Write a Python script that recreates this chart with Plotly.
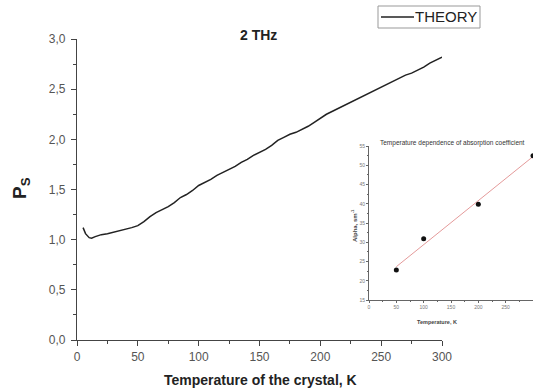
import numpy as np
import plotly.graph_objects as go

# Main curve: theory
temp = [5, 7, 10, 12, 15, 20, 25, 30, 35, 40, 45, 50, 55, 60, 65, 70, 75, 80, 85, 90, 95,
        100, 105, 110, 115, 120, 125, 130, 135, 140, 145, 150, 155, 160, 165, 170, 175,
        180, 185, 190, 195, 200, 205, 210, 215, 220, 225, 230, 235, 240, 245, 250, 255,
        260, 265, 270, 275, 280, 285, 290, 295, 300]
ps = [1.12, 1.06, 1.02, 1.015, 1.03, 1.05, 1.06, 1.075, 1.09, 1.10, 1.12, 1.14, 1.18, 1.23,
      1.27, 1.30, 1.33, 1.37, 1.42, 1.45, 1.49,
      1.54, 1.57, 1.60, 1.64, 1.67, 1.70, 1.73, 1.77, 1.80, 1.84, 1.87, 1.90, 1.94, 1.99,
      2.02, 2.05, 2.07, 2.10, 2.13, 2.17, 2.21, 2.25, 2.28, 2.31, 2.34, 2.37, 2.40, 2.43,
      2.46, 2.49, 2.52, 2.55, 2.58, 2.61, 2.64, 2.66, 2.69, 2.72, 2.76, 2.79, 2.82]
series_name = "THEORY"

# Inset: absorption coefficient
inset_temp = [50, 100, 200, 300]
inset_alpha = [22.8, 30.9, 39.9, 52.5]

main_y_ticks = [0, 0.5, 1.0, 1.5, 2.0, 2.5, 3.0]
main_x_ticks = [0, 50, 100, 150, 200, 250, 300]
inset_y_ticks = [15, 20, 25, 30, 35, 40, 45, 50, 55]
inset_x_ticks = [0, 50, 100, 150, 200, 250, 300]

slope, intercept = np.polyfit(inset_temp, inset_alpha, 1)
fit_x = [inset_temp[0], inset_temp[-1]]
fit_y = [slope * x + intercept for x in fit_x]

W, H = 533, 392
L, R, T, B = 77, 0, 39, 52
pw = W - L - R
ph = H - T - B

def px_x(p):
    return (p - L) / pw

def px_y(p):
    return (H - B - p) / ph

FONT = "Liberation Sans, Arial, sans-serif"
LINE_COLOR = "#222222"

fig = go.Figure()
fig.add_trace(go.Scatter(x=temp, y=ps, mode="lines", name=series_name, showlegend=False,
                         line=dict(color=LINE_COLOR, width=1.5), xaxis="x", yaxis="y"))
fig.add_trace(go.Scatter(x=fit_x, y=fit_y, mode="lines", showlegend=False,
                         line=dict(color="#e49a9a", width=1), xaxis="x2", yaxis="y2"))
fig.add_trace(go.Scatter(x=inset_temp, y=inset_alpha, mode="markers", showlegend=False,
                         marker=dict(color="#111111", size=5), xaxis="x2", yaxis="y2"))

axis_font = dict(family=FONT, size=12, color="#555555")
small_font = dict(family=FONT, size=5, color="#777777")

fig.update_layout(
    width=W, height=H,
    margin=dict(l=L, r=R, t=T, b=B, autoexpand=False),
    paper_bgcolor="white", plot_bgcolor="white",
    separators=",.",
    xaxis=dict(domain=[0, px_x(442)], range=[0, 300], tickvals=main_x_ticks,
               tickformat=".0f", showgrid=False, zeroline=False, showline=True,
               linecolor="#444444", linewidth=1.2, ticks="outside", ticklen=5,
               tickcolor="#444444", tickfont=axis_font, automargin=False,
               minor=dict(ticks="outside", ticklen=3, dtick=25, tickcolor="#444444"),
               anchor="y"),
    yaxis=dict(domain=[0, 1], range=[0, 3], tickvals=main_y_ticks, tickformat=".1f",
               showgrid=False, zeroline=False, showline=True, linecolor="#444444",
               linewidth=1.2, ticks="outside", ticklen=5, tickcolor="#444444",
               tickfont=axis_font, automargin=False, ticklabelstandoff=3,
               minor=dict(ticks="outside", ticklen=3, dtick=0.25, tickcolor="#444444"),
               anchor="x"),
    xaxis2=dict(domain=[px_x(369), 1], range=[0, 300], tickvals=inset_x_ticks,
                showgrid=False, zeroline=False, showline=True, linecolor="#666666",
                linewidth=0.8, ticks="outside", ticklen=2, tickcolor="#666666",
                tickfont=small_font, anchor="y2", automargin=False,
                minor=dict(ticks="outside", ticklen=1.5, dtick=25, tickcolor="#666666")),
    yaxis2=dict(domain=[px_y(300), px_y(146)], range=[15, 55], tickvals=inset_y_ticks,
                showgrid=False, zeroline=False, showline=True, linecolor="#666666",
                linewidth=0.8, ticks="outside", ticklen=2, tickcolor="#666666",
                tickfont=small_font, anchor="x2", automargin=False,
                minor=dict(ticks="outside", ticklen=1.5, dtick=2.5, tickcolor="#666666")),
)

# Compact legend box (as in the reference): frame, line sample and label
fig.add_shape(type="rect", xref="paper", yref="paper",
              x0=px_x(378), x1=px_x(480), y0=px_y(28), y1=px_y(6),
              line=dict(color="#999999", width=1), fillcolor="white")
fig.add_shape(type="line", xref="paper", yref="paper",
              x0=px_x(381), x1=px_x(414), y0=px_y(17), y1=px_y(17),
              line=dict(color=LINE_COLOR, width=1.5))

def note(text, x, y, size, color="#222222", angle=0, xanchor="center"):
    fig.add_annotation(text=text, x=px_x(x), y=px_y(y), xref="paper", yref="paper",
                       xanchor=xanchor, yanchor="middle", showarrow=False,
                       textangle=angle, font=dict(family=FONT, size=size, color=color))

note(series_name, 413, 17, 15, xanchor="left")
note("<b>2 THz</b>", 258, 35, 14)
note("<b>P<sub>S</sub></b>", 21, 188, 19, angle=-90)
note("<b>Temperature of the crystal, K</b>", 260, 380, 14)
note("Temperature dependence of absorption coefficient", 452, 143, 6.5, "#333333")
note("<b>Alpha, sm<sup>-1</sup></b>", 354, 226, 6, "#444444", angle=-90)
note("<b>Temperature, K</b>", 437, 322, 5.5, "#444444")

fig.write_html("out.html")
